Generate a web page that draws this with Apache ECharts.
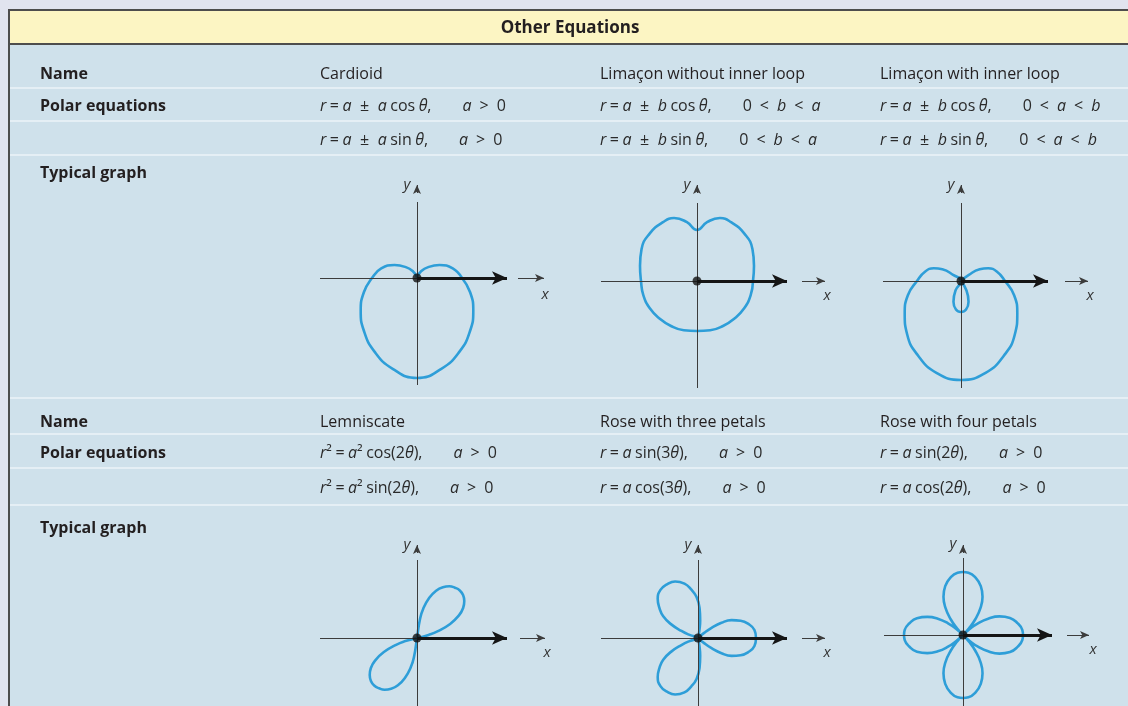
<!DOCTYPE html>
<html>
<head>
<meta charset="utf-8">
<script src="https://cdn.jsdelivr.net/npm/echarts@6/dist/echarts.min.js"></script>
<style>
  html, body { margin: 0; padding: 0; background: #e1e4ef; }
  #chart { width: 1128px; height: 706px; }
</style>
</head>
<body>
<div id="chart"></div>
<script>
// table text
const rowLabels = ["Name", "Polar equations", "Typical graph"];
const namesTop = ["Cardioid", "Limaçon without inner loop", "Limaçon with inner loop"];
const namesBottom = ["Lemniscate", "Rose with three petals", "Rose with four petals"];
const eqTop1 = ["r = a ± a cos θ,   a > 0", "r = a ± b cos θ,   0 < b < a", "r = a ± b cos θ,   0 < a < b"];
const eqTop2 = ["r = a ± a sin θ,   a > 0", "r = a ± b sin θ,   0 < b < a", "r = a ± b sin θ,   0 < a < b"];
const eqBottom1 = ["r² = a² cos(2θ),   a > 0", "r = a sin(3θ),   a > 0", "r = a sin(2θ),   a > 0"];
const eqBottom2 = ["r² = a² sin(2θ),   a > 0", "r = a cos(3θ),   a > 0", "r = a cos(2θ),   a > 0"];

// curves, polar [angle in degrees, radius]
const cardioidTheta = [0,15,30,45,60,75,90,105,120,135,150,165,180,195,210,225,240,255,270,285,300,315,330,345,360];
const cardioidR =     [45,37,26,15,7,2,0,2,7,15,26,37,45,55,65,75,85,94,100,94,85,75,65,55,45];

const limaconTheta = [0,15,30,45,60,70,80,90,100,110,120,135,150,165,180,195,210,225,240,255,270,285,300,315,330,345,360];
const limaconR =     [56,59,64,67,68,67,60,51,60,67,68,67,64,59,56,55.5,54.5,53,52,51,50,51,52,53,54.5,55.5,56];

const loopTheta = [42,38,32,25,15,0,345,330,315,300,285,270,255,240,225,210,195,180,165,155,148,142,138,240,250,260,270,280,290,300,310];
const loopR =     [0,10,22,30,37,44,55,65,76,86,95,99,95,86,76,65,55,44,37,30,22,10,0,11,22,29,31,29,22,11,0];

const lemTheta = [13,15,18,23,28,33,38,43,48,53,58,63,68,73,78,81,83,261,258,253,248,243,238,233,228,223,218,213,208,203,198,195,193];
const lemR =     [0,12,22,36,47,55,60,63,64,63,61,57,51,42,30,19,0,19,30,42,51,57,61,63,64,63,60,55,47,36,22,12,0];

const rose3Theta = [318,320,323,327,332,338,344,352,0,8,16,22,28,33,37,40,42,
                    80,83,87,92,98,104,112,120,128,136,142,148,153,157,160,162,
                    200,203,207,212,218,224,232,240,248,256,262,268,273,277,280,282];
const rose3R = [0,8,17,28,38,46,52,57,58,57,52,46,38,28,17,8,0,
                9,18,30,41,49,56,61,62,61,56,49,41,30,18,9,0,
                9,18,30,41,49,56,61,62,61,56,49,41,30,18,9,0];

const rose4Theta = [315,318,322,327,333,340,348,355,0,5,12,20,27,33,38,42,45,
                    48,52,57,63,70,78,85,90,95,102,110,117,123,128,132,135,
                    138,142,147,153,160,168,175,180,185,192,200,207,213,218,222,225,
                    228,232,237,243,250,258,265,270,275,282,290,297,303,308,312,315];
const rose4R = [0,9,19,30,41,50,56,59.5,60,59.5,56,50,41,30,19,9,0,
                9,20,32,43,52,59,62.5,63,62.5,59,52,43,32,20,9,0,
                9,19,30,40,49,55,58.5,59,58.5,55,49,40,30,19,9,0,
                9,20,32,43,52,59,62.5,63,62.5,59,52,43,32,20,9,0];

const curves = [
  [cardioidTheta, cardioidR],
  [limaconTheta, limaconR],
  [loopTheta, loopR],
  [lemTheta, lemR],
  [rose3Theta, rose3R],
  [rose4Theta, rose4R]
];

// layout of the six small plots (pixel origin, axis extents in px units)
const panels = [
  { o: [417, 278], x: [-97, 95], y: [76, -107], ax: [101, 131], xlab: [128, -17], ylab: [-10, 93], ya: [85, 97] },
  { o: [697, 281], x: [-96, 95], y: [78, -107], ax: [105, 132], xlab: [130, -15], ylab: [-10, 96], ya: [88, 100] },
  { o: [961, 281], x: [-78, 92], y: [78, -107], ax: [104, 131], xlab: [129, -15], ylab: [-10, 96], ya: [88, 100] },
  { o: [417, 638], x: [-97, 95], y: [78, -68], ax: [103, 132], xlab: [130, -15], ylab: [-10, 93], ya: [85, 97] },
  { o: [698, 638], x: [-97, 94], y: [78, -68], ax: [104, 131], xlab: [129, -15], ylab: [-10, 93], ya: [85, 97] },
  { o: [963, 635], x: [-79, 94], y: [77, -71], ax: [104, 130], xlab: [130, -15], ylab: [-10, 91], ya: [82, 94] }
];

const FONT = '"Open Sans", "Noto Sans", sans-serif';
const INK = '#231f20';
const EQ = '#2a2a2a';
const CURVE = '#2e9ed8';

// italic variables, upright operators; wider room around ± and in the condition
function richEq(s) {
  return s.split('   ').map(function (part, k) {
    const chars = Array.from(part);
    let out = '';
    chars.forEach(function (ch, j) {
      if (ch === ' ') {
        const nearPm = chars[j - 1] === '±' || chars[j + 1] === '±';
        out += k > 0 ? '{c| }' : (nearPm ? '{w| }' : '{s| }');
      } else {
        out += ('rabθ'.includes(ch) ? '{i|' : '{n|') + ch + '}';
      }
    });
    return out;
  }).join('{g| }');
}

const eqRich = {
  i: { fontFamily: FONT, fontStyle: 'italic', fontSize: 16, fill: EQ, color: EQ },
  n: { fontFamily: FONT, fontSize: 16, fill: EQ, color: EQ },
  s: { fontFamily: FONT, fontSize: 16, width: 3.5 },
  w: { fontFamily: FONT, fontSize: 16, width: 8.5 },
  c: { fontFamily: FONT, fontSize: 16, width: 8 },
  g: { fontFamily: FONT, fontSize: 16, width: 31 }
};

function txt(x, y, text, opt) {
  opt = opt || {};
  const el = {
    type: 'text', x: x, y: y + 2,
    style: {
      text: text,
      fontFamily: FONT,
      fontSize: opt.size || 16,
      fontWeight: opt.bold ? 'bold' : 'normal',
      fill: opt.color || INK,
      align: opt.align || 'left', textAlign: opt.align || 'left',
      verticalAlign: 'middle', textVerticalAlign: 'middle'
    }
  };
  if (opt.rich) el.style.rich = eqRich;
  return el;
}

const graphics = [
  { type: 'rect', shape: { x: 0, y: 0, width: 1128, height: 706 }, style: { fill: '#e1e4ef' } },
  { type: 'rect', shape: { x: 9, y: 10, width: 1130, height: 700 }, style: { fill: '#cfe1eb', stroke: '#4d4d4d', lineWidth: 2 } },
  { type: 'rect', shape: { x: 10, y: 11, width: 1120, height: 33 }, style: { fill: '#fcf5c3' } },
  { type: 'line', shape: { x1: 10, y1: 44, x2: 1128, y2: 44 }, style: { stroke: '#4d4d4d', lineWidth: 2 } }
];
[88, 121, 155, 398, 434, 468, 505].forEach(function (y) {
  graphics.push({ type: 'line', shape: { x1: 10, y1: y, x2: 1128, y2: y }, style: { stroke: '#e5eff5', lineWidth: 2 } });
});
graphics.push(txt(570, 26, 'Other Equations', { bold: true, size: 17, align: 'center' }));

const cols = [320, 600, 880];
const blocks = [
  { y: [72, 104, 138, 171], names: namesTop, eq1: eqTop1, eq2: eqTop2 },
  { y: [420, 451, 486, 526], names: namesBottom, eq1: eqBottom1, eq2: eqBottom2 }
];
blocks.forEach(function (b) {
  graphics.push(txt(40, b.y[0], rowLabels[0], { bold: true }));
  graphics.push(txt(40, b.y[1], rowLabels[1], { bold: true }));
  graphics.push(txt(40, b.y[3], rowLabels[2], { bold: true }));
  cols.forEach(function (x, k) {
    graphics.push(txt(x, b.y[0], b.names[k]));
    graphics.push(txt(x, b.y[1], richEq(b.eq1[k]), { rich: true }));
    graphics.push(txt(x, b.y[2], richEq(b.eq2[k]), { rich: true }));
  });
});

const grids = [], xAxes = [], yAxes = [], polars = [], angleAxes = [], radiusAxes = [], series = [];
const thin = { color: '#3c3c3c', width: 1, type: 'solid' };

panels.forEach(function (p, i) {
  const down = Math.min(110, 706 - p.o[1]);
  grids.push({ left: p.o[0] - 100, top: p.o[1] - 105, width: 240, height: 105 + down, outerBoundsMode: 'none', containLabel: false });
  xAxes.push({ gridIndex: i, type: 'value', min: -100, max: 140, show: false });
  yAxes.push({ gridIndex: i, type: 'value', min: -down, max: 105, show: false });
  polars.push({ center: p.o, radius: 110 });
  angleAxes.push({ polarIndex: i, type: 'value', min: 0, max: 360, startAngle: 0, clockwise: false, show: false });
  radiusAxes.push({ polarIndex: i, type: 'value', min: 0, max: 110, show: false });

  // axes, arrows and labels
  series.push({
    type: 'scatter', xAxisIndex: i, yAxisIndex: i, silent: true, z: 2,
    symbolSize: 0, data: [[0, 0]],
    markLine: {
      silent: true, animation: false, symbol: ['none', 'none'],
      label: { show: false },
      data: [
        [{ coord: [p.x[0], 0], lineStyle: thin }, { coord: [p.x[1] - 10, 0] }],
        [{ coord: [0, p.y[0]], lineStyle: thin }, { coord: [0, p.y[1]] }],
        [{ coord: [0, 0], lineStyle: { color: '#151515', width: 3, type: 'solid' } },
         { coord: [p.x[1] - 5, 0], symbol: 'arrow', symbolSize: [10, 15] }],
        [{ coord: [p.ax[0], 0], lineStyle: thin }, { coord: [p.ax[1] - 4, 0], symbol: 'arrow', symbolSize: [6, 9] }],
        [{ coord: [0, p.ya[0]], lineStyle: thin }, { coord: [0, p.ya[1] - 4], symbol: 'arrow', symbolSize: [6, 9] }]
      ]
    },
    markPoint: {
      silent: true, animation: false, symbol: 'circle', symbolSize: 1,
      itemStyle: { color: 'rgba(0,0,0,0)' },
      label: { show: true, position: 'inside', fontFamily: FONT, fontStyle: 'italic', fontSize: 15, color: '#333' },
      data: [
        { coord: p.xlab, label: { formatter: 'x' } },
        { coord: p.ylab, label: { formatter: 'y' } }
      ]
    }
  });

  // the curve
  const t = curves[i][0], r = curves[i][1];
  series.push({
    type: 'line', coordinateSystem: 'polar', polarIndex: i, z: 3,
    smooth: 0.5, showSymbol: false, silent: true,
    lineStyle: { color: CURVE, width: 2.6 },
    data: r.map(function (v, k) { return [v, t[k]]; })
  });

  // pole dot
  series.push({
    type: 'scatter', xAxisIndex: i, yAxisIndex: i, silent: true, z: 5,
    symbolSize: 9, itemStyle: { color: '#111' }, data: [[0, 0]]
  });
});

const chart = echarts.init(document.getElementById('chart'));
chart.setOption({
  animation: false,
  graphic: { elements: graphics },
  grid: grids,
  xAxis: xAxes,
  yAxis: yAxes,
  polar: polars,
  angleAxis: angleAxes,
  radiusAxis: radiusAxes,
  series: series
});
</script>
</body>
</html>
